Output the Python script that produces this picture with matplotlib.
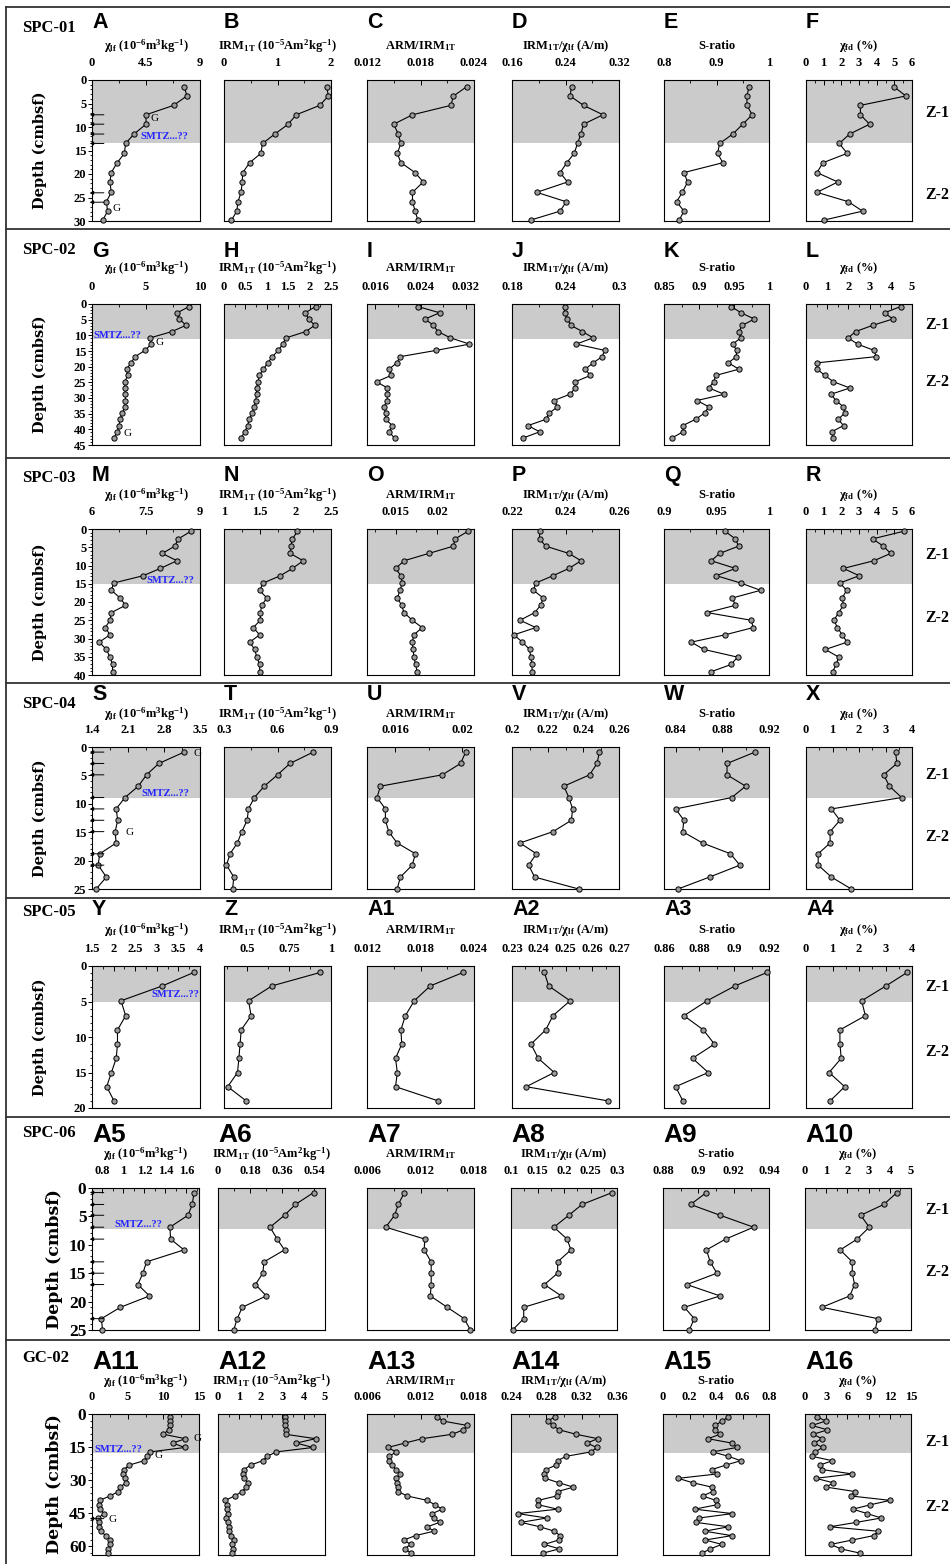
import matplotlib
matplotlib.use('Agg')
import matplotlib.pyplot as plt
from matplotlib.lines import Line2D
from matplotlib.ticker import FixedLocator, AutoMinorLocator, FuncFormatter

plt.rcParams['font.family'] = 'Liberation Serif'
plt.rcParams['font.weight'] = 'bold'
plt.rcParams['mathtext.fontset'] = 'custom'
plt.rcParams['mathtext.rm'] = 'Liberation Serif:bold'
plt.rcParams['mathtext.it'] = 'Liberation Serif:bold'
plt.rcParams['mathtext.bf'] = 'Liberation Serif:bold'

# ---------------- SPC-01 ----------------
spc01_depth = [1.4, 3.4, 5.4, 7.4, 9.4, 11.5, 13.5, 15.6, 17.6, 19.7, 21.7, 23.9, 25.9, 27.9, 29.8]
spc01_chi = [7.7, 7.9, 6.8, 4.5, 4.5, 3.5, 2.8, 2.7, 2.1, 1.6, 1.5, 1.6, 1.2, 1.3, 0.9]
spc01_irm = [1.92, 1.95, 1.79, 1.35, 1.2, 0.95, 0.72, 0.69, 0.48, 0.35, 0.34, 0.32, 0.26, 0.24, 0.14]
spc01_arm = [0.0232, 0.0217, 0.0214, 0.0171, 0.0150, 0.0155, 0.0158, 0.0154, 0.0158, 0.0174,
             0.0183, 0.0171, 0.0171, 0.0174, 0.0177]
spc01_irmchi = [0.249, 0.247, 0.267, 0.296, 0.267, 0.263, 0.258, 0.253, 0.242, 0.232, 0.243,
                0.197, 0.241, 0.232, 0.188]
spc01_sratio = [0.962, 0.958, 0.958, 0.968, 0.950, 0.931, 0.906, 0.902, 0.912, 0.838, 0.845,
                0.835, 0.824, 0.838, 0.829]
spc01_chifd = [4.97, 5.65, 3.08, 3.08, 3.6, 2.47, 1.88, 2.33, 0.96, 0.62, 1.8, 0.62, 2.4, 3.2, 1.03]

# ---------------- SPC-02 ----------------
spc02_depth = [0.8, 2.8, 4.8, 6.8, 8.8, 10.8, 12.8, 14.8, 16.8, 18.8, 20.8, 22.8, 24.8, 26.8,
               28.8, 30.8, 32.8, 34.8, 36.8, 38.8, 40.8, 42.8]
spc02_chi = [9.0, 7.9, 8.1, 8.7, 7.4, 5.4, 5.5, 4.9, 4.0, 3.6, 3.2, 3.3, 3.05, 3.05, 3.1, 3.1,
             3.05, 2.8, 2.6, 2.5, 2.35, 2.0]
spc02_irm = [2.14, 1.9, 1.98, 2.12, 1.91, 1.45, 1.37, 1.27, 1.13, 1.02, 0.92, 0.82, 0.8, 0.76,
             0.76, 0.74, 0.70, 0.66, 0.59, 0.55, 0.49, 0.39]
spc02_arm = [0.0235, 0.0274, 0.0248, 0.0263, 0.0271, 0.0293, 0.0327, 0.0268, 0.0204, 0.0198,
             0.0184, 0.0188, 0.0162, 0.0181, 0.0181, 0.0181, 0.0175, 0.0178, 0.0178, 0.0190,
             0.0184, 0.0194]
spc02_irmchi = [0.239, 0.239, 0.242, 0.246, 0.259, 0.271, 0.252, 0.284, 0.281, 0.271, 0.262,
                0.268, 0.251, 0.251, 0.245, 0.227, 0.231, 0.222, 0.218, 0.198, 0.211, 0.192]
spc02_sratio = [0.946, 0.960, 0.979, 0.962, 0.957, 0.960, 0.948, 0.954, 0.953, 0.942, 0.957,
                0.924, 0.921, 0.914, 0.936, 0.897, 0.914, 0.908, 0.895, 0.877, 0.877, 0.861]
spc02_chifd = [4.47, 3.71, 4.09, 3.15, 2.34, 1.99, 2.43, 3.21, 3.31, 0.50, 0.53, 0.89, 1.29,
               2.07, 1.18, 1.41, 1.76, 1.83, 1.52, 1.77, 1.21, 1.29]

# ---------------- SPC-03 ----------------
spc03_depth = [0.6, 2.7, 4.7, 6.7, 8.7, 10.8, 12.8, 14.8, 16.8, 18.9, 20.9, 22.9, 25.0, 27.0,
               29.0, 31.0, 33.0, 35.1, 37.1, 39.1]
spc03_chi = [8.75, 8.4, 8.3, 7.95, 8.36, 7.9, 7.42, 6.6, 6.54, 6.78, 6.93, 6.54, 6.5, 6.37,
             6.5, 6.2, 6.4, 6.5, 6.57, 6.57]
spc03_irm = [2.03, 1.96, 1.94, 1.93, 2.11, 1.96, 1.79, 1.55, 1.5, 1.6, 1.53, 1.51, 1.51, 1.41,
             1.5, 1.36, 1.43, 1.46, 1.5, 1.5]
spc03_arm = [0.0238, 0.0222, 0.0220, 0.0190, 0.0160, 0.0150, 0.0156, 0.0158, 0.0155, 0.0152,
             0.0157, 0.0160, 0.0170, 0.0182, 0.0172, 0.0170, 0.0171, 0.0172, 0.0174, 0.0176]
spc03_irmchi = [0.2303, 0.2303, 0.2326, 0.2413, 0.2458, 0.2413, 0.2353, 0.2289, 0.228, 0.2317,
                0.2307, 0.2285, 0.223, 0.2289, 0.2207, 0.2239, 0.2266, 0.227, 0.2275, 0.2275]
spc03_sratio = [0.958, 0.968, 0.971, 0.953, 0.945, 0.968, 0.950, 0.973, 0.992, 0.965, 0.968,
                0.941, 0.983, 0.985, 0.958, 0.926, 0.938, 0.970, 0.964, 0.945]
spc03_chifd = [5.55, 3.77, 4.38, 4.79, 3.84, 2.12, 3.01, 1.92, 2.3, 2.05, 2.12, 1.85, 1.58,
               1.78, 2.05, 2.33, 1.1, 1.85, 1.71, 1.51]

# ---------------- SPC-04 ----------------
spc04_depth = [0.9, 2.9, 4.9, 6.9, 8.9, 10.9, 12.9, 14.9, 16.9, 18.8, 20.8, 22.9, 25.0]
spc04_chi = [3.19, 2.70, 2.46, 2.30, 2.04, 1.87, 1.9, 1.85, 1.87, 1.55, 1.52, 1.68, 1.48]
spc04_irm = [0.80, 0.67, 0.60, 0.526, 0.47, 0.437, 0.43, 0.40, 0.375, 0.334, 0.314, 0.355, 0.348]
spc04_arm = [0.0202, 0.0199, 0.0188, 0.0151, 0.0149, 0.0154, 0.0154, 0.0156, 0.0161, 0.0172,
             0.0170, 0.0163, 0.0161]
spc04_irmchi = [0.249, 0.2477, 0.2435, 0.2291, 0.2319, 0.234, 0.2333, 0.2230, 0.2045, 0.2137,
                0.2093, 0.2127, 0.2374]
spc04_sratio = [0.908, 0.884, 0.884, 0.900, 0.888, 0.840, 0.847, 0.846, 0.863, 0.887, 0.895,
                0.869, 0.842]
spc04_chifd = [3.38, 3.43, 2.93, 3.15, 3.61, 0.96, 1.28, 0.91, 0.91, 0.46, 0.46, 0.96, 1.71]

# ---------------- SPC-05 ----------------
spc05_depth = [0.9, 2.8, 4.9, 7.0, 9.0, 11.0, 13.0, 15.0, 17.0, 19.0]
spc05_chi = [3.86, 3.13, 2.17, 2.28, 2.09, 2.09, 2.06, 1.95, 1.84, 2.01]
spc05_irm = [0.937, 0.647, 0.507, 0.522, 0.463, 0.456, 0.449, 0.441, 0.382, 0.493]
spc05_arm = [0.0228, 0.0191, 0.0173, 0.0163, 0.0158, 0.0159, 0.0152, 0.0154, 0.0152, 0.0200]
spc05_irmchi = [0.2421, 0.2437, 0.2517, 0.2453, 0.2426, 0.2371, 0.2398, 0.2458, 0.2353, 0.2659]
spc05_sratio = [0.919, 0.9006, 0.8846, 0.8714, 0.8825, 0.8888, 0.8763, 0.8853, 0.8666, 0.8708]
spc05_chifd = [3.82, 3.02, 2.10, 2.24, 1.28, 1.28, 1.33, 0.87, 1.46, 0.91]

# ---------------- SPC-06 ----------------
spc06_depth = [0.8, 2.9, 4.8, 6.9, 9.0, 10.9, 13.0, 15.0, 17.0, 19.0, 21.0, 23.0, 25.0]
spc06_chi = [1.672, 1.656, 1.615, 1.443, 1.449, 1.577, 1.22, 1.185, 1.137, 1.248, 0.971, 0.79, 0.80]
spc06_irm = [0.536, 0.434, 0.373, 0.292, 0.332, 0.373, 0.258, 0.251, 0.21, 0.271, 0.136, 0.108, 0.088]
spc06_arm = [0.0102, 0.0095, 0.0091, 0.0081, 0.0125, 0.0124, 0.0132, 0.0132, 0.0132, 0.0131,
             0.0150, 0.0169, 0.0176]
spc06_irmchi = [0.291, 0.234, 0.209, 0.181, 0.206, 0.213, 0.188, 0.188, 0.163, 0.195, 0.124,
                0.124, 0.103]
spc06_sratio = [0.9046, 0.8956, 0.9123, 0.9313, 0.9154, 0.9046, 0.9067, 0.9105, 0.8935, 0.9123,
                0.8921, 0.8977, 0.8949]
spc06_chifd = [4.34, 3.71, 2.63, 3.03, 2.46, 1.66, 2.23, 2.23, 2.34, 2.11, 0.8, 3.43, 3.31]

# ---------------- GC-02 ----------------
gc02_depth = [1.2, 3.2, 5.2, 7.2, 9.2, 11.2, 13.2, 15.2, 17.2, 19.2, 21.2, 23.2, 25.2, 27.2,
              29.2, 31.2, 33.2, 35.2, 37.2, 39.2, 41.2, 43.2, 45.2, 47.2, 49.2, 51.2, 53.2,
              55.2, 57.2, 59.2, 61.2, 63.2]
gc02_chi = [11.0, 10.9, 11.0, 10.75, 10.0, 13.1, 11.3, 13.0, 8.2, 7.7, 7.3, 5.2, 4.5, 4.3, 4.6,
            4.8, 3.9, 3.7, 2.5, 1.1, 0.94, 1.1, 1.7, 0.85, 0.94, 0.94, 1.3, 1.9, 2.5, 2.5, 2.3, 2.2]
gc02_irm = [3.11, 3.11, 3.13, 3.16, 3.16, 4.56, 3.66, 4.44, 2.72, 2.3, 2.09, 1.52, 1.22, 1.16,
            1.2, 1.41, 1.31, 1.13, 0.78, 0.34, 0.41, 0.44, 0.47, 0.38, 0.47, 0.53, 0.5, 0.59,
            0.75, 0.66, 0.72, 0.66]
gc02_arm = [0.01387, 0.01451, 0.01725, 0.0168, 0.01556, 0.01219, 0.01024, 0.00833, 0.00926,
            0.00851, 0.00851, 0.00881, 0.00926, 0.00975, 0.00926, 0.00938, 0.00949, 0.00949,
            0.0105, 0.01275, 0.01361, 0.01444, 0.01331, 0.0135, 0.01414, 0.01275, 0.0135,
            0.01144, 0.01013, 0.01088, 0.01024, 0.01099]
gc02_irmchi = [0.2902, 0.2815, 0.2872, 0.2947, 0.3136, 0.3381, 0.326, 0.337, 0.3306, 0.3023,
               0.2928, 0.2909, 0.2796, 0.2777, 0.2789, 0.294, 0.3106, 0.2928, 0.2917, 0.2709,
               0.2709, 0.2928, 0.2475, 0.2804, 0.2513, 0.2728, 0.2891, 0.2955, 0.294, 0.2777,
               0.2947, 0.2758]
gc02_sratio = [0.494, 0.449, 0.389, 0.389, 0.431, 0.339, 0.519, 0.556, 0.374, 0.494, 0.586,
               0.474, 0.369, 0.411, 0.115, 0.224, 0.369, 0.374, 0.299, 0.399, 0.406, 0.239,
               0.524, 0.274, 0.249, 0.494, 0.314, 0.519, 0.319, 0.444, 0.357, 0.294]
gc02_chifd = [1.64, 2.94, 0.98, 3.18, 1.17, 2.38, 1.31, 2.48, 1.45, 0.98, 3.88, 2.1, 2.38, 6.68,
              1.54, 3.97, 3.04, 7.06, 6.45, 12.06, 9.25, 6.78, 8.79, 10.79, 7.24, 3.5, 10.33,
              9.72, 6.68, 3.64, 5.05, 7.85]

cores = ['SPC-01', 'SPC-02', 'SPC-03', 'SPC-04', 'SPC-05', 'SPC-06', 'GC-02']
letters = [['A', 'B', 'C', 'D', 'E', 'F'],
           ['G', 'H', 'I', 'J', 'K', 'L'],
           ['M', 'N', 'O', 'P', 'Q', 'R'],
           ['S', 'T', 'U', 'V', 'W', 'X'],
           ['Y', 'Z', 'A1', 'A2', 'A3', 'A4'],
           ['A5', 'A6', 'A7', 'A8', 'A9', 'A10'],
           ['A11', 'A12', 'A13', 'A14', 'A15', 'A16']]
titles = ['χ$_{\\rm lf}$ (10$^{-6}$m$^{3}$kg$^{-1}$)',
          'IRM$_{\\rm 1T}$ (10$^{-5}$Am$^{2}$kg$^{-1}$)',
          'ARM/IRM$_{\\rm 1T}$',
          'IRM$_{\\rm 1T}$/χ$_{\\rm lf}$ (A/m)',
          'S-ratio',
          'χ$_{\\rm fd}$ (%)']

series = [
    (spc01_depth, [spc01_chi, spc01_irm, spc01_arm, spc01_irmchi, spc01_sratio, spc01_chifd]),
    (spc02_depth, [spc02_chi, spc02_irm, spc02_arm, spc02_irmchi, spc02_sratio, spc02_chifd]),
    (spc03_depth, [spc03_chi, spc03_irm, spc03_arm, spc03_irmchi, spc03_sratio, spc03_chifd]),
    (spc04_depth, [spc04_chi, spc04_irm, spc04_arm, spc04_irmchi, spc04_sratio, spc04_chifd]),
    (spc05_depth, [spc05_chi, spc05_irm, spc05_arm, spc05_irmchi, spc05_sratio, spc05_chifd]),
    (spc06_depth, [spc06_chi, spc06_irm, spc06_arm, spc06_irmchi, spc06_sratio, spc06_chifd]),
    (gc02_depth, [gc02_chi, gc02_irm, gc02_arm, gc02_irmchi, gc02_sratio, gc02_chifd]),
]

# x ranges and tick values of every panel
xlims = [
    [(0, 9), (0, 2), (0.012, 0.024), (0.16, 0.32), (0.8, 1), (0, 6)],
    [(0, 10), (0, 2.5), (0.0145, 0.0335), (0.18, 0.3), (0.85, 1), (0, 5)],
    [(6, 9), (1, 2.5), (0.0115, 0.0245), (0.22, 0.26), (0.9, 1), (0, 6)],
    [(1.4, 3.5), (0.3, 0.9), (0.0143, 0.0207), (0.2, 0.26), (0.83, 0.92), (0, 4)],
    [(1.5, 4), (0.36, 1), (0.012, 0.024), (0.23, 0.27), (0.86, 0.92), (0, 4)],
    [(0.7, 1.72), (0, 0.6), (0.006, 0.018), (0.1, 0.3), (0.88, 0.94), (0, 5)],
    [(0, 15), (0, 5), (0.006, 0.018), (0.24, 0.36), (0, 0.8), (0, 15)],
]
xticks = [
    [[0, 4.5, 9], [0, 1, 2], [0.012, 0.018, 0.024], [0.16, 0.24, 0.32], [0.8, 0.9, 1], [0, 1, 2, 3, 4, 5, 6]],
    [[0, 5, 10], [0, 0.5, 1, 1.5, 2, 2.5], [0.016, 0.024, 0.032], [0.18, 0.24, 0.3], [0.85, 0.9, 0.95, 1], [0, 1, 2, 3, 4, 5]],
    [[6, 7.5, 9], [1, 1.5, 2, 2.5], [0.015, 0.02], [0.22, 0.24, 0.26], [0.9, 0.95, 1], [0, 1, 2, 3, 4, 5, 6]],
    [[1.4, 2.1, 2.8, 3.5], [0.3, 0.6, 0.9], [0.016, 0.02], [0.2, 0.22, 0.24, 0.26], [0.84, 0.88, 0.92], [0, 1, 2, 3, 4]],
    [[1.5, 2, 2.5, 3, 3.5, 4], [0.5, 0.75, 1], [0.012, 0.018, 0.024], [0.23, 0.24, 0.25, 0.26, 0.27], [0.86, 0.88, 0.9, 0.92], [0, 1, 2, 3, 4]],
    [[0.8, 1, 1.2, 1.4, 1.6], [0, 0.18, 0.36, 0.54], [0.006, 0.012, 0.018], [0.1, 0.15, 0.2, 0.25, 0.3], [0.88, 0.9, 0.92, 0.94], [0, 1, 2, 3, 4, 5]],
    [[0, 5, 10, 15], [0, 1, 2, 3, 4, 5], [0.006, 0.012, 0.018], [0.24, 0.28, 0.32, 0.36], [0, 0.2, 0.4, 0.6, 0.8], [0, 3, 6, 9, 12, 15]],
]

# depth axis, shaded zone (Z-1) and annotations of each core
depth_max = [30, 45, 40, 25, 20, 25, 64]
depth_step = [5, 5, 5, 5, 5, 5, 15]
zone_base = [13.5, 11.1, 15, 9, 5, 7.2, 17.6]
smtz_pos = [(4.0, 12.1), (0.15, 9.9), (7.52, 14.0), (2.37, 8.2), (2.88, 4.0), (0.91, 6.5), (0.3, 16.1)]
g_marks = [[(4.9, 8.1), (1.7, 27.4)],
           [(5.9, 12.3), (2.9, 41.3)],
           [],
           [(3.37, 1.2), (2.05, 15.1)],
           [],
           [],
           [(14.2, 11.3), (8.8, 19.0), (2.3, 47.9)]]
arrow_depths = [[7.4, 9.4, 11.5, 13.5, 24.0, 26.0], [], [],
                [0.9, 2.9, 4.9, 8.9, 10.9, 12.9, 14.9, 18.8, 20.8], [],
                [0.8, 2.9, 4.8, 6.9, 9.0, 13.0, 15.0, 17.0, 23.0], [47.5]]

# layout in pixels
W, H = 950, 1564
row_top = [80, 304, 529, 747, 966, 1188, 1414]
row_bot = [221, 445, 675, 889, 1108, 1330, 1555]
letter_base = [28, 257, 481, 700, 915, 1142, 1369]
title_y = [46, 268, 495, 714, 930, 1154, 1381]
core_y = [28, 250, 478, 704, 912, 1133, 1358]
zlabel_y = [(113, 195), (325, 382), (555, 618), (775, 837), (987, 1052), (1210, 1272), (1442, 1507)]
separators = [7, 229, 458, 683, 898, 1117, 1340]
cols = [(92, 200), (224, 331), (367, 474), (512, 619), (664, 769), (806, 912)]
cols_big = [(92, 199), (218, 325), (367, 474), (511, 617), (663, 769), (805, 911)]

fig = plt.figure(figsize=(W / 100, H / 100), dpi=100)
fig.patch.set_facecolor('white')

fmt = FuncFormatter(lambda v, p: '{:g}'.format(round(v, 6)))

for r in range(7):
    depth, values = series[r]
    big = r >= 5
    colx = cols_big if big else cols
    top, bot = row_top[r], row_bot[r]
    for c in range(6):
        x0, x1 = colx[c]
        ax = fig.add_axes([x0 / W, 1 - bot / H, (x1 - x0) / W, (bot - top) / H])
        ax.axhspan(0, zone_base[r], color='#cbcbcb', lw=0, zorder=0)
        ax.plot(values[c], depth, '-o', color='black', lw=0.8, ms=3.8,
                mfc='#9a9a9a', mec='black', mew=0.7, zorder=3, clip_on=False)
        ax.set_xlim(*xlims[r][c])
        ax.set_ylim(depth_max[r], 0)

        ax.xaxis.tick_top()
        ax.xaxis.set_major_locator(FixedLocator(xticks[r][c]))
        ax.xaxis.set_minor_locator(AutoMinorLocator(2))
        ax.xaxis.set_major_formatter(fmt)
        ax.tick_params(axis='x', which='major', direction='in', length=3.5, width=0.7,
                       labelsize=9, pad=8)
        ax.tick_params(axis='x', which='minor', direction='in', length=2, width=0.6)
        for s in ax.spines.values():
            s.set_linewidth(0.8)

        if c == 0:
            ax.yaxis.set_major_locator(FixedLocator(list(range(0, depth_max[r] + 1, depth_step[r]))))
            ax.yaxis.set_minor_locator(AutoMinorLocator(5))
            ax.tick_params(axis='y', which='major', direction='out', length=3, width=0.7,
                           labelsize=12.5 if big else 9, pad=1)
            ax.tick_params(axis='y', which='minor', direction='out', length=1.5, width=0.6)
            ax.set_ylabel('Depth (cmbsf)', family='DejaVu Serif', fontweight='bold',
                          fontsize=12.5 if big else 10.5)
            ax.yaxis.set_label_coords(-0.27 if big else -0.42, 0.5)
            sx, sy = smtz_pos[r]
            ax.text(sx, sy, 'SMTZ...??', color='#2424ff', fontsize=7.5, ha='left',
                    va='center', zorder=5)
            for gx, gy in g_marks[r]:
                ax.text(gx, gy, 'G', fontsize=8, fontweight='normal', ha='left',
                        va='center', zorder=5)
            for d in arrow_depths[r]:
                ax.annotate('', xy=(-0.02, d), xytext=(0.11, d),
                            xycoords=('axes fraction', 'data'),
                            textcoords=('axes fraction', 'data'),
                            arrowprops=dict(arrowstyle='-|>', color='black', lw=0.7,
                                            mutation_scale=5, shrinkA=0, shrinkB=0),
                            zorder=6, annotation_clip=False)
        else:
            ax.set_yticks([])

        fig.text((x0 + x1) / 2 / W, 1 - title_y[r] / H, titles[c], ha='center',
                 va='center', fontsize=9)
        fig.text(x0 / W, 1 - letter_base[r] / H, letters[r][c], ha='left', va='baseline',
                 family=['Liberation Sans Narrow', 'Liberation Sans'], fontweight='bold',
                 fontsize=19 if big else 15.5)

    fig.text(22 / W, 1 - core_y[r] / H, cores[r], ha='left', va='center', fontsize=12)
    fig.text(925 / W, 1 - zlabel_y[r][0] / H, 'Z-1', ha='left', va='center', fontsize=11.5)
    fig.text(925 / W, 1 - zlabel_y[r][1] / H, 'Z-2', ha='left', va='center', fontsize=11.5)

# frame around the rows
for y in separators:
    fig.add_artist(Line2D([6 / W, 1], [1 - y / H, 1 - y / H], color='#333333', lw=1.3))
fig.add_artist(Line2D([6 / W, 6 / W], [1 - separators[0] / H, 0], color='#333333', lw=1.3))

fig.savefig('out.png', dpi=100, facecolor='white')
